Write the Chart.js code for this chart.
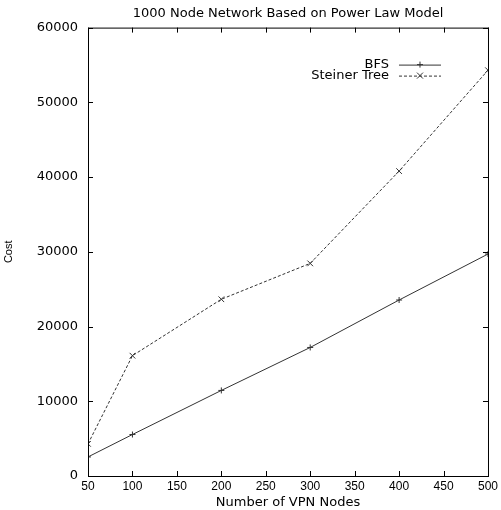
<!DOCTYPE html>
<html>
<head>
<meta charset="utf-8">
<script src="https://cdn.jsdelivr.net/npm/chart.js@4"></script>
<style>
  html, body { margin: 0; padding: 0; background: #fff; }
  #wrap { width: 501px; height: 510px; position: relative; }
</style>
</head>
<body>
<div id="wrap"><canvas id="costChart"></canvas></div>
<script>
// Dados
const vpnNodes = [50, 100, 200, 300, 400, 500];
const bfsCost = [2550, 5550, 11450, 17200, 23550, 29700];
const steinerCost = [4300, 16100, 23650, 28450, 40800, 54300];
const xTicks = [50, 100, 150, 200, 250, 300, 350, 400, 450, 500];
const yTicks = [0, 10000, 20000, 30000, 40000, 50000, 60000];

const WIDE = "'DejaVu Sans', sans-serif";
const NARROW = "'Liberation Sans', Arial, sans-serif";

/**
 * Moldura estilo gnuplot com ticks para dentro e legenda interna
 */
const framePlugin = {
  id: 'frame',
  afterDraw(chart) {
    const ctx = chart.ctx;
    const area = chart.chartArea;
    const xs = chart.scales.x;
    const ys = chart.scales.y;
    const len = 5;

    ctx.save();
    ctx.strokeStyle = '#000';
    ctx.lineWidth = 1;
    ctx.setLineDash([]);
    ctx.strokeRect(area.left + 0.5, area.top + 0.5, area.right - area.left, area.bottom - area.top);

    ctx.beginPath();
    xTicks.forEach(v => {
      const px = Math.round(xs.getPixelForValue(v)) + 0.5;
      ctx.moveTo(px, area.bottom);
      ctx.lineTo(px, area.bottom - len);
      ctx.moveTo(px, area.top);
      ctx.lineTo(px, area.top + len);
    });
    yTicks.forEach(v => {
      const py = Math.round(ys.getPixelForValue(v)) + 0.5;
      ctx.moveTo(area.left, py);
      ctx.lineTo(area.left + len, py);
      ctx.moveTo(area.right, py);
      ctx.lineTo(area.right - len, py);
    });
    ctx.stroke();

    // Legenda dentro da área do gráfico
    ctx.font = '13px ' + WIDE;
    ctx.fillStyle = '#000';
    ctx.textAlign = 'right';
    ctx.textBaseline = 'middle';
    chart.data.datasets.forEach((ds, i) => {
      const y = area.top + 37 + i * 11;
      const textX = area.right - 99;
      const x0 = area.right - 89;
      const x1 = area.right - 47;
      ctx.fillText(ds.label, textX, y);
      ctx.strokeStyle = ds.borderColor;
      ctx.lineWidth = ds.borderWidth;
      ctx.setLineDash(ds.borderDash || []);
      ctx.beginPath();
      ctx.moveTo(x0, y + 0.5);
      ctx.lineTo(x1, y + 0.5);
      ctx.stroke();
      ctx.setLineDash([]);
      const mx = (x0 + x1) / 2;
      const r = 3;
      ctx.beginPath();
      if (ds.pointStyle === 'cross') {
        ctx.moveTo(mx, y - r);
        ctx.lineTo(mx, y + r);
        ctx.moveTo(mx - r, y);
        ctx.lineTo(mx + r, y);
      } else {
        ctx.moveTo(mx - r, y - r);
        ctx.lineTo(mx + r, y + r);
        ctx.moveTo(mx - r, y + r);
        ctx.lineTo(mx + r, y - r);
      }
      ctx.stroke();
    });
    ctx.restore();
  }
};

new Chart(document.getElementById('costChart'), {
  type: 'line',
  data: {
    datasets: [
      {
        label: 'BFS',
        data: vpnNodes.map((x, i) => ({ x: x, y: bfsCost[i] })),
        borderColor: '#333',
        borderWidth: 1,
        pointStyle: 'cross',
        pointRadius: 3,
        pointBorderColor: '#333',
        pointBorderWidth: 1,
        fill: false,
        tension: 0
      },
      {
        label: 'Steiner Tree',
        data: vpnNodes.map((x, i) => ({ x: x, y: steinerCost[i] })),
        borderColor: '#333',
        borderWidth: 1,
        borderDash: [3, 2],
        pointStyle: 'crossRot',
        pointRadius: 4,
        pointBorderColor: '#333',
        pointBorderWidth: 1,
        fill: false,
        tension: 0
      }
    ]
  },
  options: {
    responsive: true,
    maintainAspectRatio: false,
    animation: false,
    layout: { padding: { left: 0, right: 11, top: 0, bottom: 0 } },
    scales: {
      x: {
        type: 'linear',
        min: 50,
        max: 500,
        afterFit: s => { s.height = 34; },
        afterBuildTicks: s => { s.ticks = xTicks.map(v => ({ value: v })); },
        ticks: {
          padding: 3,
          color: '#000',
          font: { family: NARROW, size: 12 },
          maxRotation: 0,
          callback: v => String(v)
        },
        grid: { display: false, drawTicks: false },
        border: { display: false },
        title: {
          display: true,
          text: 'Number of VPN Nodes',
          color: '#000',
          font: { family: WIDE, size: 13 },
          padding: { top: 0, bottom: 0 }
        }
      },
      y: {
        min: 0,
        max: 60000,
        afterFit: s => { s.width = 88; },
        afterBuildTicks: s => { s.ticks = yTicks.map(v => ({ value: v })); },
        ticks: {
          padding: 10,
          color: '#000',
          font: { family: WIDE, size: 13 },
          callback: v => String(v)
        },
        grid: { display: false, drawTicks: false },
        border: { display: false },
        title: {
          display: true,
          text: 'Cost',
          color: '#000',
          font: { family: NARROW, size: 11 },
          padding: { top: 2, bottom: 0 }
        }
      }
    },
    plugins: {
      legend: { display: false },
      tooltip: { enabled: false },
      title: {
        display: true,
        fullSize: false,
        text: '1000 Node Network Based on Power Law Model',
        color: '#000',
        font: { family: WIDE, size: 13, weight: 'normal' },
        padding: { top: 6, bottom: 6 }
      }
    }
  },
  plugins: [framePlugin]
});
</script>
</body>
</html>
